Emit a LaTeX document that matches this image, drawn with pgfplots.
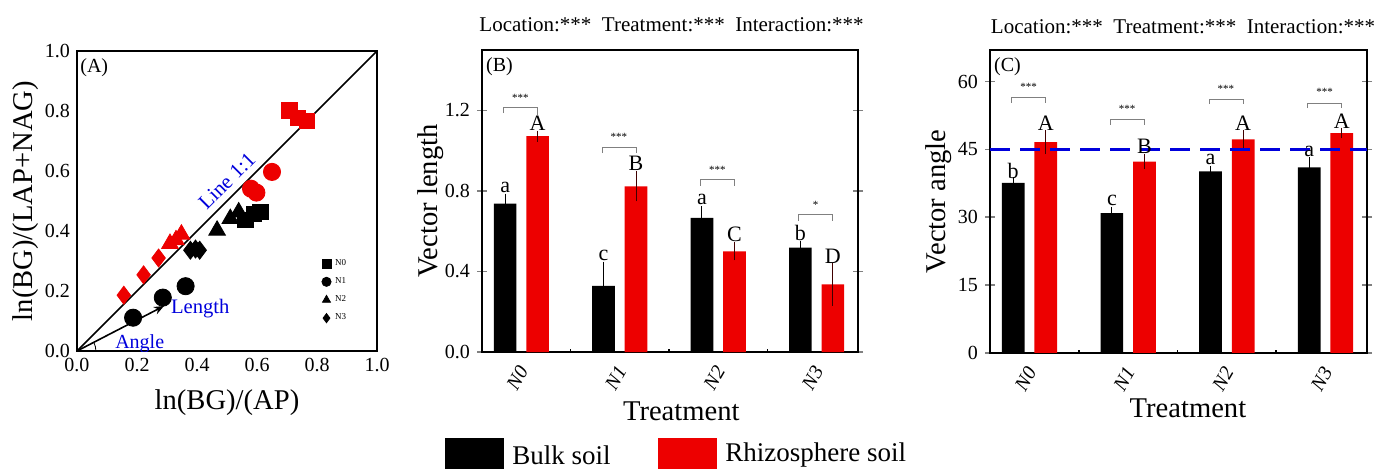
\documentclass[border=0pt]{standalone}
\usepackage{fontspec}
\setmainfont{Liberation Serif}
\usepackage{pgfplots}
\usepackage{pgfplotstable}
\pgfplotsset{compat=1.18}
\usetikzlibrary{arrows.meta}
\definecolor{rred}{RGB}{237,0,0}
\definecolor{lblue}{RGB}{0,0,220}

% x = position of the bar (group centre -/+ 0.165)
\pgfplotstableread{
x y e
0.835 0.737 0.030
1.835 0.329 0.100
2.835 0.666 0.040
3.835 0.519 0.012
}\Bblack
\pgfplotstableread{
x y e
1.165 1.072 0.008
2.165 0.823 0.055
3.165 0.500 0.025
4.165 0.336 0.087
}\Bred
\pgfplotstableread{
x y e
0.835 37.6 0.3
1.835 30.9 0.5
2.835 40.1 0.3
3.835 41.0 1.4
}\Cblack
\pgfplotstableread{
x y e
1.165 46.6 1.8
2.165 42.3 0.7
3.165 47.2 1.2
4.165 48.6 0.3
}\Cred

\tikzset{
  lett/.style={font=\fontsize{11}{12}\selectfont, inner sep=0pt},
  stars/.style={font=\fontsize{5.5}{6}\selectfont, inner sep=0pt},
  brk/.style={gray, line width=0.5pt},
}
\pgfplotsset{
  common/.style={
    scale only axis,
    axis line style={line width=0.9pt},
    tick label style={font=\fontsize{10}{12}\selectfont},
    label style={font=\fontsize{14.3}{16}\selectfont},
    /pgf/number format/assume math mode=true,
  },
  barax/.style={
    common,
    width=188pt, height=151pt,
    xmin=0.6, xmax=4.42,
    xtick={1,2,3,4},
    xticklabels={N0,N1,N2,N3},
    xtick style={draw=none},
    xticklabel style={font=\fontsize{10}{12}\selectfont\itshape, xshift=-2pt, yshift=-10.5pt, rotate=60, anchor=center},
    ytick style={line width=0.8pt},
    tick align=center,
    major tick length=5pt,
    xlabel={Treatment},
  },
  barb/.style={ybar, bar width=0.23, bar shift=0, fill=black, draw=none},
  barr/.style={ybar, bar width=0.23, bar shift=0, fill=rred, draw=none},
  errb/.style={forget plot, draw=none, mark=none,
    error bars/.cd, y dir=both, y explicit,
    error bar style={draw=#1, line width=0.5pt},
    error mark options={draw=#1, mark size=2pt, line width=0.5pt}},
}

\begin{document}
\begin{tikzpicture}
\useasboundingbox (0,0) rectangle (688pt,234pt);

% ---------------- Panel A ----------------
\begin{axis}[common,
  at={(38.5pt,58.5pt)}, anchor=south west,
  width=150pt, height=150pt,
  xmin=0, xmax=1, ymin=0, ymax=1,
  xtick={0,0.2,...,1.0}, ytick={0,0.2,...,1.0},
  major tick length=0pt,
  /pgf/number format/.cd, fixed, fixed zerofill, precision=1, /pgfplots/.cd,
  xlabel={ln(BG)/(AP)},
  ylabel={ln(BG)/(LAP+NAG)},
  xlabel style={at={(axis description cs:0.5,-0.173)}, anchor=center},
  ylabel style={at={(axis description cs:-0.17,0.5)}, anchor=center},
  legend style={at={(axis description cs:0.815,0.08)}, anchor=south west, draw=none, fill=none,
    font=\fontsize{4.5}{5}\selectfont, row sep=0.6pt, inner sep=0pt},
  legend cell align=left,
  legend image code/.code={\draw[#1, mark size=2.3pt] plot coordinates {(0cm,0cm)};},
]
\addplot[black, line width=0.8pt, forget plot] coordinates {(0,0) (1,1)};
\addplot[only marks, mark=square*, mark size=3.8pt, black] coordinates {(0.561,0.436) (0.589,0.458) (0.611,0.463)};
\addlegendentry{N0}
\addplot[only marks, mark=*, mark size=4.3pt, black] coordinates {(0.187,0.111) (0.286,0.178) (0.362,0.216)};
\addlegendentry{N1}
\addplot[only marks, mark=triangle*, mark size=4.8pt, black] coordinates {(0.467,0.402) (0.511,0.441) (0.539,0.463)};
\addlegendentry{N2}
\addplot[only marks, mark=diamond*, mark size=4.5pt, black] coordinates {(0.378,0.336) (0.395,0.340) (0.409,0.336)};
\addlegendentry{N3}
\addplot[only marks, mark=square*, mark size=3.8pt, rred, forget plot] coordinates {(0.708,0.802) (0.736,0.778) (0.765,0.767)};
\addplot[only marks, mark=*, mark size=4.3pt, rred, forget plot] coordinates {(0.650,0.597) (0.580,0.541) (0.598,0.528)};
\addplot[only marks, mark=triangle*, mark size=4.8pt, rred, forget plot] coordinates {(0.310,0.358) (0.330,0.370) (0.348,0.389)};
\addplot[only marks, mark=diamond*, mark size=4.5pt, rred, forget plot] coordinates {(0.156,0.186) (0.222,0.254) (0.272,0.310)};
\draw[-{Stealth[length=5pt,width=4pt]}, line width=0.8pt] (axis cs:0,0) -- (axis cs:0.29,0.15);
\draw[line width=0.4pt] (axis cs:0.063,0) arc[start angle=0, end angle=27, radius=9.5pt];
\node[lblue, font=\fontsize{10.5}{12}\selectfont, rotate=45] at (axis cs:0.5,0.567) {Line 1:1};
\node[lblue, font=\fontsize{10.3}{12}\selectfont] at (axis cs:0.411,0.141) {Length};
\node[lblue, font=\fontsize{10}{12}\selectfont] at (axis cs:0.209,0.024) {Angle};
\node[anchor=north west, inner sep=0pt, font=\fontsize{10}{12}\selectfont] at (axis description cs:0.01,0.975) {(A)};
\end{axis}

% ---------------- Panel B ----------------
\begin{axis}[barax,
  at={(241pt,58pt)}, anchor=south west,
  ymin=0, ymax=1.5, ytick={0,0.4,0.8,1.2},
  yticklabel style={/pgf/number format/.cd, fixed, fixed zerofill, precision=1},
  ylabel={Vector length},
  xlabel style={at={(axis description cs:0.53,-0.195)}, anchor=center},
  ylabel style={at={(axis description cs:-0.136,0.5)}, anchor=center},
]
\addplot[barb] table[x=x, y=y] {\Bblack};
\addplot[barr] table[x=x, y=y] {\Bred};
\addplot[errb=black] table[x=x, y=y, y error=e] {\Bblack};
\addplot[errb=black!75!red] table[x=x, y=y, y error=e] {\Bred};
\draw[line width=0.8pt] (axis cs:1.5,0) -- (axis cs:1.5,0.015);
\draw[line width=0.8pt] (axis cs:2.5,0) -- (axis cs:2.5,0.015);
\draw[line width=0.8pt] (axis cs:3.5,0) -- (axis cs:3.5,0.015);
\node[lett] at (axis cs:0.835,0.815) {a};
\node[lett] at (axis cs:1.165,1.135) {A};
\node[lett] at (axis cs:1.835,0.480) {c};
\node[lett] at (axis cs:2.165,0.937) {B};
\node[lett] at (axis cs:2.835,0.758) {a};
\node[lett] at (axis cs:3.165,0.585) {C};
\node[lett] at (axis cs:3.835,0.590) {b};
\node[lett] at (axis cs:4.165,0.476) {D};
\draw[brk] (axis cs:0.82,1.186) -- (axis cs:0.82,1.216) -- (axis cs:1.165,1.216) -- (axis cs:1.165,1.176);
\draw[brk] (axis cs:1.82,0.988) -- (axis cs:1.82,1.018) -- (axis cs:2.165,1.018) -- (axis cs:2.165,0.988);
\draw[brk] (axis cs:2.82,0.826) -- (axis cs:2.82,0.856) -- (axis cs:3.165,0.856) -- (axis cs:3.165,0.826);
\draw[brk] (axis cs:3.82,0.653) -- (axis cs:3.82,0.683) -- (axis cs:4.165,0.683) -- (axis cs:4.165,0.653);
\node[stars] at (axis cs:0.99,1.262) {***};
\node[stars] at (axis cs:1.99,1.070) {***};
\node[stars] at (axis cs:2.99,0.905) {***};
\node[stars] at (axis cs:3.99,0.730) {*};
\node[anchor=north west, inner sep=0pt, font=\fontsize{10}{12}\selectfont] at (axis description cs:0.01,0.975) {(B)};
\end{axis}

% ---------------- Panel C ----------------
\begin{axis}[barax,
  at={(495pt,57.6pt)}, anchor=south west,
  width=188.5pt, height=151.5pt,
  ymin=0, ymax=67, ytick={0,15,30,45,60},
  ylabel={Vector angle},
  xlabel style={at={(axis description cs:0.525,-0.183)}, anchor=center},
  ylabel style={at={(axis description cs:-0.135,0.5)}, anchor=center},
]
\addplot[barb] table[x=x, y=y] {\Cblack};
\addplot[barr] table[x=x, y=y] {\Cred};
\addplot[errb=black] table[x=x, y=y, y error=e] {\Cblack};
\addplot[errb=black!75!red] table[x=x, y=y, y error=e] {\Cred};
\addplot[lblue, line width=1.2pt, dash pattern=on 10pt off 5pt] coordinates {(0.6,45) (4.42,45)};
\draw[line width=0.8pt] (axis cs:1.5,0) -- (axis cs:1.5,0.67);
\draw[line width=0.8pt] (axis cs:2.5,0) -- (axis cs:2.5,0.67);
\draw[line width=0.8pt] (axis cs:3.5,0) -- (axis cs:3.5,0.67);
\node[lett] at (axis cs:0.835,40.3) {b};
\node[lett] at (axis cs:1.165,50.8) {A};
\node[lett] at (axis cs:1.835,33.8) {c};
\node[lett] at (axis cs:2.165,45.6) {B};
\node[lett] at (axis cs:2.835,42.7) {a};
\node[lett] at (axis cs:3.165,50.8) {A};
\node[lett] at (axis cs:3.835,44.5) {a};
\node[lett] at (axis cs:4.165,51.1) {A};
\draw[brk] (axis cs:0.82,55.3) -- (axis cs:0.82,56.4) -- (axis cs:1.165,56.4) -- (axis cs:1.165,55.3);
\draw[brk] (axis cs:1.82,50.4) -- (axis cs:1.82,51.5) -- (axis cs:2.165,51.5) -- (axis cs:2.165,50.4);
\draw[brk] (axis cs:2.82,55.0) -- (axis cs:2.82,56.1) -- (axis cs:3.165,56.1) -- (axis cs:3.165,55.0);
\draw[brk] (axis cs:3.82,54.1) -- (axis cs:3.82,55.2) -- (axis cs:4.165,55.2) -- (axis cs:4.165,54.1);
\node[stars] at (axis cs:0.99,58.8) {***};
\node[stars] at (axis cs:1.99,53.9) {***};
\node[stars] at (axis cs:2.99,58.3) {***};
\node[stars] at (axis cs:3.99,57.6) {***};
\node[anchor=north west, inner sep=0pt, font=\fontsize{10}{12}\selectfont] at (axis description cs:0.01,0.975) {(C)};
\end{axis}

% titles
\node[font=\fontsize{10.5}{12}\selectfont] at (335.75pt,221.5pt) {Location:***\ \ Treatment:***\ \ Interaction:***};
\node[font=\fontsize{10.5}{12}\selectfont] at (591.5pt,220.6pt) {Location:***\ \ Treatment:***\ \ Interaction:***};

% bottom legend
\fill[black] (222.5pt,-2pt) rectangle (252pt,15pt);
\node[anchor=west, inner sep=0pt, font=\fontsize{13.5}{15}\selectfont] at (256pt,6.5pt) {Bulk soil};
\fill[rred] (329pt,-2pt) rectangle (358.5pt,15pt);
\node[anchor=west, inner sep=0pt, font=\fontsize{13.5}{15}\selectfont] at (362.5pt,6.5pt) {Rhizosphere soil};
\end{tikzpicture}
\end{document}
